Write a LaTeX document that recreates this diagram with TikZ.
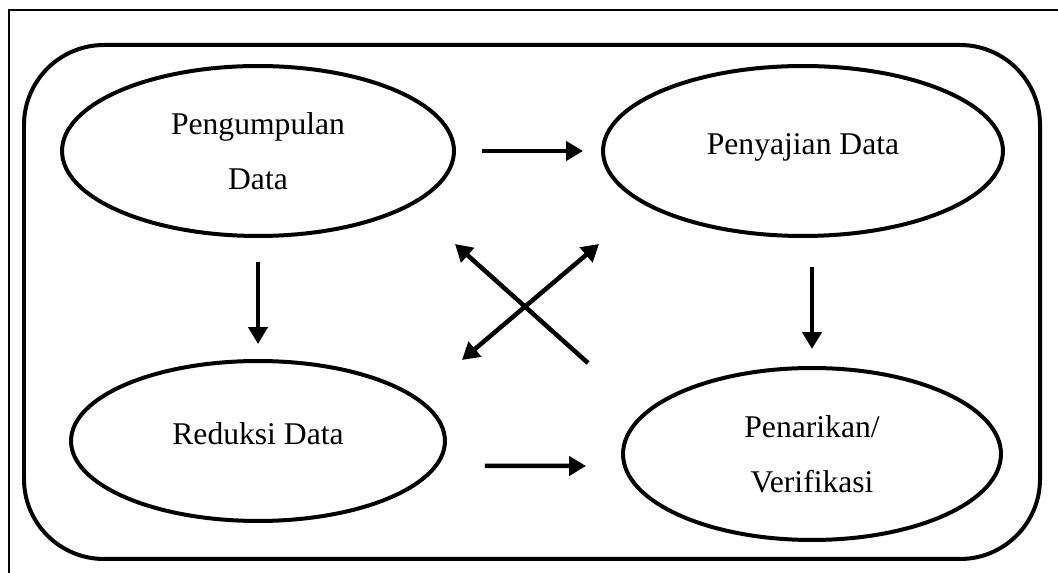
\documentclass[tikz,border=0pt]{standalone}
\usepackage{fontspec}
\setmainfont{Liberation Serif}
\usetikzlibrary{arrows.meta,shapes.geometric,positioning}

\begin{document}
\begin{tikzpicture}[x=0.02cm,y=-0.02cm]
  \tikzstyle{every node}=[font={\fontsize{18}{31.3}\selectfont}]
  \tikzstyle{stage}=[ellipse,draw,line width=0.08cm,inner sep=0pt,align=center]
  \tikzstyle{oneline}=[text height=0.5cm,text depth=0.34cm]
  \tikzstyle{arr}=[-{Triangle[length=0.34cm,width=0.38cm]},line width=0.09cm]
  \tikzstyle{every edge}=[draw,arr]
  \useasboundingbox (0,0) rectangle (1058,573);
  \draw[line width=0.8pt] (9,573) -- (9,10) -- (1058,10);
  \draw[line width=0.08cm,rounded corners=1.6cm] (24,45) rectangle (1040,559);

  \node[stage,minimum width=7.84cm,minimum height=3.4cm] (kumpul) at (258,151) {Pengumpulan\\Data};
  \node[stage,oneline,minimum width=8cm,minimum height=3.4cm] (saji) at (803,151) {Penyajian Data};
  \node[stage,oneline,minimum width=7.48cm,minimum height=3.2cm] (reduksi) at (258,441) {Reduksi Data};
  \node[stage,minimum width=7.56cm,minimum height=3.44cm] (tarik) at (812,454) {Penarikan/\\Verifikasi};

  \coordinate (xa) at (455,244);
  \coordinate (xb) at (588,363);
  \coordinate (xc) at (462,360);
  \coordinate (xd) at (599,244);

  \path
  (kumpul) edge [shorten <=0.52cm,shorten >=0.36cm] (saji)
           edge [shorten <=0.48cm,shorten >=0.3cm] (reduksi)
  (saji.south -| tarik.north) edge [shorten <=0.58cm,shorten >=0.34cm] (tarik.north)
  ([yshift=-0.5cm]reduksi.east) edge [shorten <=0.76cm,shorten >=0.7cm] ([yshift=-0.24cm]tarik.west)
  (xb) edge (xa)
  (xc) edge [{Triangle[length=0.34cm,width=0.38cm]}-{Triangle[length=0.34cm,width=0.38cm]}] (xd);
\end{tikzpicture}
\end{document}
